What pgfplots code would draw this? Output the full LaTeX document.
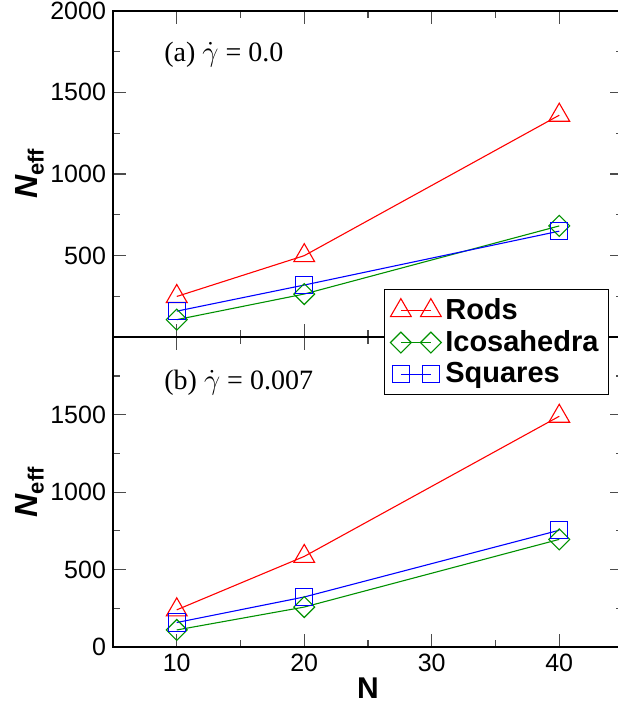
\documentclass[border=0pt]{standalone}
\usepackage{pgfplots}
\pgfplotsset{compat=1.18}
\usepackage{fontspec}
\setmainfont{Liberation Sans}
\newfontfamily\timesf{Liberation Serif}
\definecolor{gred}{RGB}{255,0,0}
\definecolor{ggreen}{RGB}{0,145,0}
\definecolor{gblue}{RGB}{0,0,255}

\pgfplotsset{
  common/.style={
    scale only axis, width=255pt,
    xmin=5, xmax=45, ymin=0, ymax=2000,
    xtick={10,20,30,40}, minor xtick={5,15,25,35},
    ytick={0,500,1000,1500,2000}, minor ytick={250,750,1250,1750},
    tick align=inside, major tick length=6.5pt, minor tick length=3.5pt,
    every tick/.style={black!70, line width=0.6pt},
    axis line style={line width=0.9pt},
    tick label style={font=\fontsize{12.5}{14}\selectfont},
    /pgf/number format/assume math mode=true,
    /pgf/number format/set thousands separator={},
    ylabel={\fontsize{16}{16}\selectfont\bfseries\itshape N\raisebox{-0.35ex}{\fontsize{11}{11}\selectfont\upshape eff}},
    ylabel style={at={(axis description cs:-0.163,0.5)}, anchor=center},
    every axis plot/.append style={line width=0.55pt},
    legend image code/.code={\draw[#1] plot coordinates {(0pt,0pt) (15pt,0pt)};},
  },
  rods/.style={color=gred, mark=triangle, mark size=6pt, mark options={fill=white, solid}},
  ico/.style={color=ggreen, mark=square, mark size=3.7pt, mark options={fill=white, solid, rotate=45}},
  sqr/.style={color=gblue, mark=square, mark size=4.3pt, mark options={fill=white, solid}},
}

\begin{document}
\begin{tikzpicture}
\begin{axis}[common, height=163.3pt, at={(0pt,154.85pt)}, anchor=south west,
  xticklabels={}, yticklabels={{},500,1000,1500,2000}]
\addplot[rods] coordinates {(10,250) (20,500) (40,1360)};
\addplot[ico] coordinates {(10,108) (20,265) (40,682)};
\addplot[sqr] coordinates {(10,160) (20,320) (40,650)};
\node[anchor=west, inner sep=0pt, font=\timesf\fontsize{14}{16}\selectfont] at (axis cs:9.0,1730) {(a) $\dot{\gamma}$ = 0.0};
\end{axis}
\begin{axis}[common, height=154.85pt, at={(0pt,0pt)}, anchor=south west,
  yticklabels={0,500,1000,1500,{}},
  xlabel={\fontsize{15}{15}\selectfont\bfseries N},
  xlabel style={at={(axis description cs:0.5,-0.132)}, anchor=center},
  legend style={at={(rel axis cs:0.531,1.156)}, anchor=north west,
    draw=black, line width=0.6pt, fill=white,
    font=\fontsize{14.5}{15}\selectfont\bfseries,
    row sep=0pt, inner xsep=3pt, inner ysep=2.5pt},
  legend cell align=left]
\addplot[rods] coordinates {(10,240) (20,585) (40,1490)};
\addlegendentry{Rods}
\addplot[ico] coordinates {(10,110) (20,258) (40,695)};
\addlegendentry{Icosahedra}
\addplot[sqr] coordinates {(10,158) (20,323) (40,754)};
\addlegendentry{Squares}
\node[anchor=west, inner sep=0pt, font=\timesf\fontsize{14}{16}\selectfont] at (axis cs:9.0,1707) {(b) $\dot{\gamma}$ = 0.007};
\end{axis}
\pgfresetboundingbox
\path[use as bounding box] (-56.5pt,-30.5pt) rectangle (252pt,323.5pt);
\end{tikzpicture}
\end{document}
